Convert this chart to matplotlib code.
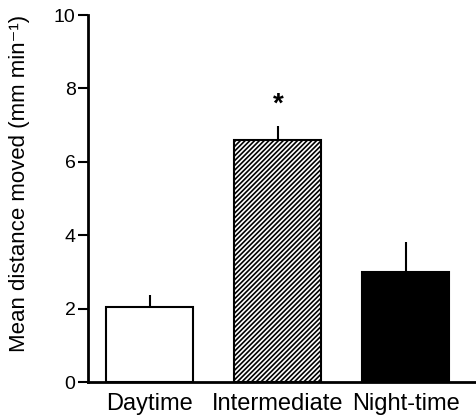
import matplotlib
matplotlib.use("Agg")
import matplotlib.pyplot as plt

categories = ["Daytime", "Intermediate", "Night-time"]
means = [2.05, 6.6, 3.0]
errors = [0.32, 0.38, 0.82]
star_label = "*"
star_value = 7.55

plt.rcParams['font.family'] = ['Liberation Sans', 'DejaVu Sans']
plt.rcParams['hatch.linewidth'] = 1.2

fig = plt.figure(figsize=(4.77, 4.18), dpi=100)
ax = fig.add_axes([0.1845, 0.0861, 0.8155, 0.8780])

x = list(range(len(categories)))
faces = ["white", "white", "black"]
hatches = [None, "///////", None]
for xi, m, e, fc, h in zip(x, means, errors, faces, hatches):
    ax.bar(xi, m, width=0.68, color=fc, edgecolor="black", linewidth=1.5,
           hatch=h, zorder=2)
    ax.errorbar(xi, m, yerr=[[0], [e]], color="black", elinewidth=1.5,
                capsize=0, fmt="none", zorder=1)

ax.text(1, star_value, star_label, ha="center", va="center", fontsize=20,
        fontweight="bold")

ax.set_xlim(-0.484, 2.555)
ax.set_ylim(0, 10)
ax.set_yticks([0, 2, 4, 6, 8, 10])
ax.set_xticks(x)
ax.set_xticklabels(categories, fontsize=17)
ax.tick_params(axis="y", labelsize=14, length=7, width=1.5, direction="out", pad=2)
ax.tick_params(axis="x", length=0, pad=8)
for s in ["top", "right"]:
    ax.spines[s].set_visible(False)
for s in ["left", "bottom"]:
    ax.spines[s].set_linewidth(2)
ax.set_ylabel("Mean distance moved (mm min\u207b\u00b9)", fontsize=16, va="center")
ax.yaxis.set_label_coords(-0.175, 0.54)

fig.savefig("out.png", dpi=100)
